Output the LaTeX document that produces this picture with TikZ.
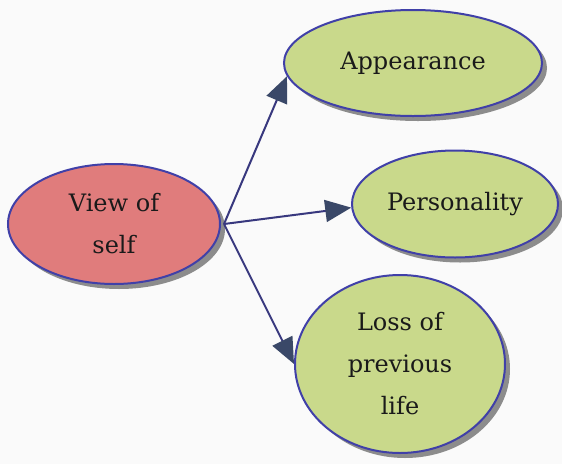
\documentclass[tikz,border=0pt]{standalone}
\usepackage{fontspec}
\setmainfont{DejaVu Serif}
\usetikzlibrary{shapes.geometric,arrows.meta,shadows}
\definecolor{bgcol}{HTML}{FAFAFA}
\definecolor{redfill}{HTML}{E07C7C}
\definecolor{greenfill}{HTML}{C9D98B}
\definecolor{rimcol}{HTML}{4040A8}
\definecolor{linecol}{HTML}{38387E}
\definecolor{headcol}{HTML}{3A4868}
\definecolor{txtcol}{HTML}{1A1A1A}
\definecolor{shadcol}{HTML}{8C8C8C}
\tikzset{
  bubble/.style={ellipse, draw=rimcol, line width=2pt, inner sep=0pt,
    align=center, text=txtcol,
    font=\fontsize{24}{42}\selectfont,
    drop shadow={shadow xshift=5pt, shadow yshift=-5pt, fill=shadcol, opacity=1}},
  redbubble/.style={bubble, fill=redfill},
  greenbubble/.style={bubble, fill=greenfill},
  link/.style={draw=linecol, line width=2pt,
    -{Triangle[length=26pt,width=22pt,fill=headcol,color=headcol]}}
}
\begin{document}
\begin{tikzpicture}[x=1pt,y=-1pt]
\fill[bgcol] (0,0) rectangle (562,464);
\useasboundingbox (0,0) rectangle (562,464);
\node[redbubble, minimum width=212pt, minimum height=120pt] (vs) at (114,224) {View of\\self};
\node[greenbubble, minimum width=258pt, minimum height=106pt] (app) at (413,63) {Appearance};
\node[greenbubble, minimum width=206pt, minimum height=107pt] (pers) at (455,204) {Personality};
\node[greenbubble, minimum width=210pt, minimum height=178pt] (loss) at (400,364) {Loss of\\previous\\life};
\coordinate (o) at ([xshift=3pt]vs.east);
\draw[link] (o) -- (app.186);
\draw[link] (o) -- (pers.182);
\draw[link] (o) -- (loss.west);
\end{tikzpicture}
\end{document}
